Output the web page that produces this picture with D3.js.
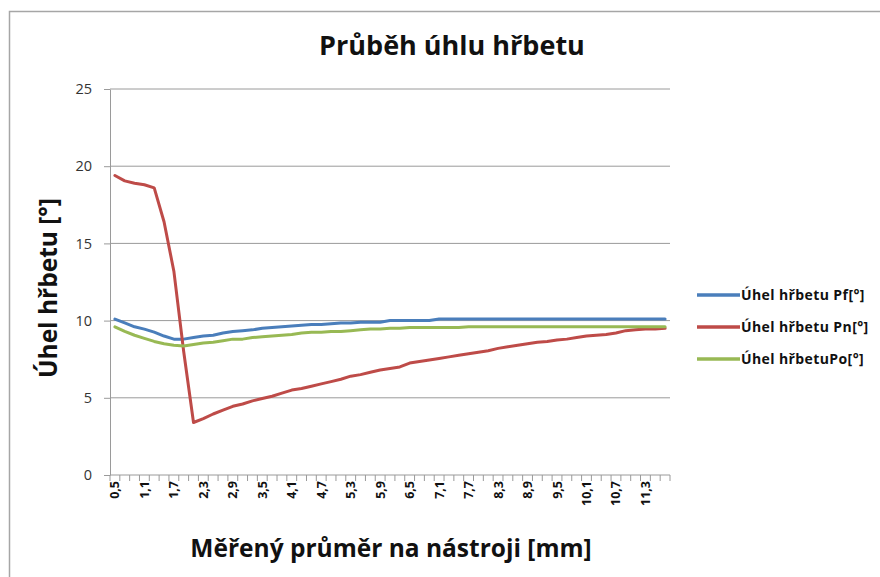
<!DOCTYPE html>
<html>
<head>
<meta charset="utf-8">
<script src="https://cdn.jsdelivr.net/npm/d3@7/dist/d3.min.js"></script>
<style>
  html, body { margin: 0; padding: 0; background: #fff; }
  svg { display: block; font-family: "Open Sans", Lato, sans-serif; }
</style>
</head>
<body>
<svg id="chart" width="880" height="577"></svg>
<script>
// Measured diameter on the tool [mm]
const categories = [
  "0,5","0,7","0,9","1,1","1,3","1,5","1,7","1,9","2,1","2,3",
  "2,5","2,7","2,9","3,1","3,3","3,5","3,7","3,9","4,1","4,3",
  "4,5","4,7","4,9","5,1","5,3","5,5","5,7","5,9","6,1","6,3",
  "6,5","6,7","6,9","7,1","7,3","7,5","7,7","7,9","8,1","8,3",
  "8,5","8,7","8,9","9,1","9,3","9,5","9,7","9,9","10,1","10,3",
  "10,5","10,7","10,9","11,1","11,3","11,5","11,7"
];

// Úhel hřbetu Pf [°]
const pf = [
  10.1, 9.85, 9.6, 9.45, 9.25, 9.0, 8.8, 8.8, 8.9, 9.0,
  9.05, 9.2, 9.3, 9.35, 9.4, 9.5, 9.55, 9.6, 9.65, 9.7,
  9.75, 9.75, 9.8, 9.85, 9.85, 9.9, 9.9, 9.9, 10.0, 10.0,
  10.0, 10.0, 10.0, 10.1, 10.1, 10.1, 10.1, 10.1, 10.1, 10.1,
  10.1, 10.1, 10.1, 10.1, 10.1, 10.1, 10.1, 10.1, 10.1, 10.1,
  10.1, 10.1, 10.1, 10.1, 10.1, 10.1, 10.1
];

// Úhel hřbetu Pn [°]
const pn = [
  19.4, 19.05, 18.9, 18.8, 18.6, 16.4, 13.2, 8.0, 3.4, 3.65,
  3.95, 4.2, 4.45, 4.6, 4.8, 4.95, 5.1, 5.3, 5.5, 5.6,
  5.75, 5.9, 6.05, 6.2, 6.4, 6.5, 6.65, 6.8, 6.9, 7.0,
  7.25, 7.35, 7.45, 7.55, 7.65, 7.75, 7.85, 7.95, 8.05, 8.2,
  8.3, 8.4, 8.5, 8.6, 8.65, 8.75, 8.8, 8.9, 9.0, 9.05,
  9.1, 9.2, 9.35, 9.4, 9.45, 9.45, 9.5
];

// Úhel hřbetu Po [°]
const po = [
  9.6, 9.3, 9.05, 8.85, 8.65, 8.5, 8.4, 8.35, 8.45, 8.55,
  8.6, 8.7, 8.8, 8.8, 8.9, 8.95, 9.0, 9.05, 9.1, 9.2,
  9.25, 9.25, 9.3, 9.3, 9.35, 9.4, 9.45, 9.45, 9.5, 9.5,
  9.55, 9.55, 9.55, 9.55, 9.55, 9.55, 9.6, 9.6, 9.6, 9.6,
  9.6, 9.6, 9.6, 9.6, 9.6, 9.6, 9.6, 9.6, 9.6, 9.6,
  9.6, 9.6, 9.6, 9.6, 9.6, 9.6, 9.6
];

const yTicks = [0, 5, 10, 15, 20, 25];

const series = [
  { name: "Úhel hřbetu Pf[°]", values: pf, color: "#4a7ebb" },
  { name: "Úhel hřbetu Pn[°]", values: pn, color: "#be4b48" },
  { name: "Úhel hřbetuPo[°]",  values: po, color: "#98b954" }
];

const svg = d3.select("#chart");
const plot = { left: 110, right: 670, top: 89, bottom: 475 };
const gridColor = "#9a9a9a";

// chart frame
svg.append("rect")
  .attr("x", 9.5).attr("y", 11.5)
  .attr("width", 900).attr("height", 600)
  .attr("fill", "none").attr("stroke", "#a6a6a6").attr("stroke-width", 1.5);

const x = d3.scaleBand().domain(categories).range([plot.left, plot.right]).padding(0);
const y = d3.scaleLinear().domain([0, 25]).range([plot.bottom, plot.top]);

// horizontal gridlines
svg.append("g").selectAll("line")
  .data(yTicks.filter(t => t > 0))
  .join("line")
  .attr("x1", plot.left).attr("x2", plot.right)
  .attr("y1", d => y(d)).attr("y2", d => y(d))
  .attr("stroke", gridColor).attr("stroke-width", 1);

// y axis
const yAxis = svg.append("g")
  .attr("transform", `translate(${plot.left},0)`)
  .call(d3.axisLeft(y).tickValues(yTicks).tickSize(6).tickPadding(12).tickSizeOuter(0));
yAxis.select(".domain").attr("stroke", gridColor);
yAxis.selectAll(".tick line").attr("stroke", gridColor);
yAxis.selectAll(".tick text")
  .attr("fill", "#333").style("font-size", "14.5px").style("font-family", "\"Open Sans\", sans-serif");

// x axis: tick marks on every category boundary, labels on every third category
const boundaries = categories.map(c => x(c)).concat([plot.right]);
const xAxis = svg.append("g");
xAxis.append("line")
  .attr("x1", plot.left).attr("x2", plot.right)
  .attr("y1", plot.bottom).attr("y2", plot.bottom)
  .attr("stroke", gridColor);
xAxis.selectAll("line.tk")
  .data(boundaries)
  .join("line").attr("class", "tk")
  .attr("x1", d => d).attr("x2", d => d)
  .attr("y1", plot.bottom).attr("y2", plot.bottom + 6)
  .attr("stroke", gridColor);
xAxis.selectAll("text")
  .data(categories.filter((c, i) => i % 3 === 0))
  .join("text")
  .attr("transform", d => `translate(${x(d) + x.bandwidth() / 2 + 4.5},${plot.bottom + 6}) rotate(-90)`)
  .attr("text-anchor", "end")
  .attr("fill", "#111")
  .style("font-size", "12.5px").style("font-weight", "bold")
  .text(d => d);

// series lines
const line = d3.line()
  .x((d, i) => x(categories[i]) + x.bandwidth() / 2)
  .y(d => y(d));

svg.append("g").selectAll("path")
  .data(series)
  .join("path")
  .attr("d", d => line(d.values))
  .attr("fill", "none")
  .attr("stroke", d => d.color)
  .attr("stroke-width", 3)
  .attr("stroke-linejoin", "round")
  .attr("stroke-linecap", "round");

// legend
const legend = svg.append("g").selectAll("g")
  .data(series)
  .join("g")
  .attr("transform", (d, i) => `translate(697,${295 + i * 32})`);
legend.append("line")
  .attr("x1", 0).attr("x2", 43).attr("y1", 0).attr("y2", 0)
  .attr("stroke", d => d.color).attr("stroke-width", 3.5);
legend.append("text")
  .attr("x", 44).attr("y", 5)
  .attr("fill", "#111")
  .style("font-size", "14px").style("font-weight", "bold")
  .style("letter-spacing", "0.4px")
  .text(d => d.name);

// titles
svg.append("text")
  .attr("x", 452).attr("y", 55)
  .attr("text-anchor", "middle")
  .attr("fill", "#111")
  .style("font-size", "27px").style("font-weight", "bold")
  .text("Průběh úhlu hřbetu");

svg.append("text")
  .attr("x", 391).attr("y", 557)
  .attr("text-anchor", "middle")
  .attr("fill", "#111")
  .style("font-size", "24.5px").style("font-weight", "bold")
  .text("Měřený průměr na nástroji [mm]");

svg.append("text")
  .attr("transform", "translate(57,288) rotate(-90)")
  .attr("text-anchor", "middle")
  .attr("fill", "#111")
  .style("font-size", "24.5px").style("font-weight", "bold")
  .text("Úhel hřbetu [°]");
</script>
</body>
</html>
